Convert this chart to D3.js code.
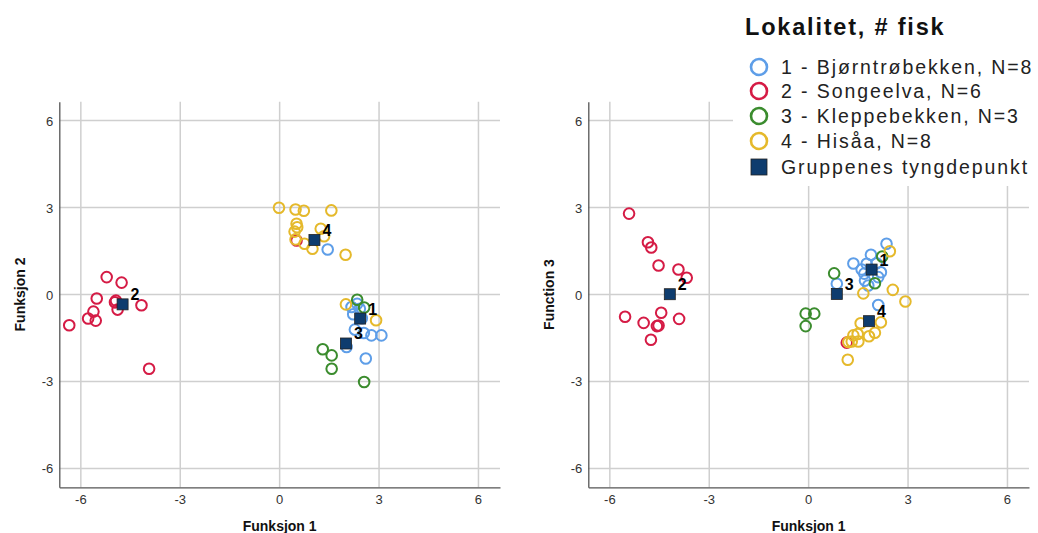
<!DOCTYPE html>
<html>
<head>
<meta charset="utf-8">
<style>
body { margin: 0; background: #fff; }
svg { font-family: "Liberation Sans", Arial, sans-serif; }
.grid line { stroke: #cfcfcf; stroke-width: 1.5; }
.axis path, .axis line { stroke: #555; }
.tick-label { font-size: 13px; fill: #333; }
.axis-title { font-size: 14px; font-weight: bold; fill: #111; }
.clabel { font-size: 16px; font-weight: bold; fill: #000; }
</style>
</head>
<body>
<svg width="1038" height="533"></svg>
<script src="https://cdn.jsdelivr.net/npm/d3@7/dist/d3.min.js"></script>
<script>

// tick values used on every axis
var ticks = [-6, -3, 0, 3, 6];

// groups: name, colour
var groupNames = ["1 - Bjørntrøbekken, N=8", "2 - Songeelva, N=6", "3 - Kleppebekken, N=3", "4 - Hisåa, N=8"];
var groupColors = ["#5e9ee8", "#d51b45", "#3b8c2e", "#e5b92b"];
var centroidName = "Gruppenes tyngdepunkt";

// left panel: Funksjon 1 vs Funksjon 2
var leftBlue = [[2.17,-0.43],[2.42,-0.49],[2.22,-0.68],[2.48,-0.82],[2.27,-1.21],[2.54,-1.33],[2.77,-1.41],[3.07,-1.41],[2.02,-1.81],[2.60,-2.21],[1.45,1.55],[2.34,-0.32]];
var leftRed = [[-5.22,0.60],[-4.77,0.41],[-5.52,-0.14],[-4.94,-0.21],[-4.97,-0.27],[-4.89,-0.52],[-4.17,-0.37],[-5.62,-0.59],[-5.78,-0.83],[-5.55,-0.90],[-6.35,-1.06],[-3.94,-2.56],[0.51,1.86]];
var leftGreen = [[2.34,-0.18],[2.55,-0.45],[1.30,-1.89],[1.57,-2.10],[1.57,-2.56],[2.55,-3.02]];
var leftYellow = [[-0.02,2.99],[0.48,2.93],[0.73,2.89],[1.56,2.90],[0.51,2.44],[0.53,2.32],[0.45,2.17],[1.24,2.27],[1.34,2.01],[0.48,1.90],[0.75,1.75],[0.99,1.58],[1.99,1.37],[2.00,-0.34],[2.91,-0.89]];
var leftCentroids = [[2.43,-0.83],[-4.74,-0.34],[2.00,-1.69],[1.05,1.88]];

// right panel: Funksjon 1 vs Function 3
var rightBlue = [[2.35,1.75],[1.88,1.37],[1.35,1.07],[1.75,1.06],[2.05,1.08],[1.60,0.86],[1.68,0.72],[2.18,0.77],[2.10,0.60],[1.70,0.48],[1.80,0.31],[0.85,0.37],[2.10,-0.36]];
var rightRed = [[-5.42,2.79],[-4.85,1.80],[-4.75,1.62],[-4.53,1.00],[-3.93,0.86],[-3.68,0.58],[-5.54,-0.77],[-4.45,-0.63],[-4.98,-0.98],[-4.58,-1.09],[-4.53,-1.07],[-3.91,-0.84],[-4.76,-1.56],[1.15,-1.66]];
var rightGreen = [[2.22,1.31],[2.00,0.39],[0.77,0.73],[-0.09,-0.66],[0.17,-0.66],[-0.09,-1.09]];
var rightYellow = [[2.45,1.49],[2.54,0.16],[2.92,-0.24],[1.65,0.04],[2.18,-0.96],[1.57,-0.99],[2.00,-1.32],[1.82,-1.44],[1.48,-1.36],[1.35,-1.41],[1.30,-1.62],[1.50,-1.62],[1.20,-1.64],[1.18,-2.25]];
var rightCentroids = [[1.90,0.86],[-4.19,0.01],[0.85,0.02],[1.82,-0.92]];

var svg = d3.select("svg");
var top0 = 101.7, bottom0 = 487.3, pw = 440.7;

function panel(left, xTitle, yTitle, series, centroids) {
  var x = d3.scaleLinear().domain([-6.65, 6.65]).range([left, left + pw]);
  var y = d3.scaleLinear().domain([-6.65, 6.65]).range([bottom0, top0]);
  var g = svg.append("g");

  // grid
  var grid = g.append("g").attr("class", "grid");
  grid.selectAll(".vx").data(ticks).enter().append("line")
    .attr("x1", d => x(d)).attr("x2", d => x(d))
    .attr("y1", top0).attr("y2", bottom0);
  grid.selectAll(".hy").data(ticks).enter().append("line")
    .attr("y1", d => y(d)).attr("y2", d => y(d))
    .attr("x1", left).attr("x2", left + pw);

  // axes lines
  g.append("g").attr("class", "axis")
    .attr("transform", "translate(0," + bottom0 + ")")
    .call(d3.axisBottom(x).tickValues([]).tickSizeOuter(0))
    .select(".domain").attr("stroke", "#555").attr("stroke-width", 1.3);
  g.append("g").attr("class", "axis")
    .attr("transform", "translate(" + left + ",0)")
    .call(d3.axisLeft(y).tickValues([]).tickSizeOuter(0))
    .select(".domain").attr("stroke", "#555").attr("stroke-width", 1.3);

  // tick labels
  g.selectAll(".xl").data(ticks).enter().append("text")
    .attr("class", "tick-label").attr("text-anchor", "middle")
    .attr("x", d => x(d)).attr("y", bottom0 + 17).text(d => d);
  g.selectAll(".yl").data(ticks).enter().append("text")
    .attr("class", "tick-label").attr("text-anchor", "end")
    .attr("x", left - 6).attr("y", d => y(d) + 5).text(d => d);

  // titles
  g.append("text").attr("class", "axis-title").attr("text-anchor", "middle")
    .attr("x", x(0)).attr("y", 531).text(xTitle);
  g.append("text").attr("class", "axis-title").attr("text-anchor", "middle")
    .attr("transform", "translate(" + (left - 34) + "," + y(0) + ") rotate(-90)")
    .text(yTitle);

  // points
  series.forEach(function(pts, i) {
    g.append("g").selectAll("circle").data(pts).enter().append("circle")
      .attr("cx", d => x(d[0])).attr("cy", d => y(d[1])).attr("r", 5.3)
      .attr("fill", "none").attr("stroke", groupColors[i]).attr("stroke-width", 2);
  });

  // centroids
  g.append("g").selectAll("rect").data(centroids).enter().append("rect")
    .attr("x", d => x(d[0]) - 5.5).attr("y", d => y(d[1]) - 5.5)
    .attr("width", 11).attr("height", 11)
    .attr("fill", "#0e3c6e").attr("stroke", "#222").attr("stroke-width", 0.8);
  g.append("g").selectAll("text").data(centroids).enter().append("text")
    .attr("class", "clabel")
    .attr("x", d => x(d[0]) + 8).attr("y", d => y(d[1]) - 4)
    .text((d, i) => i + 1);
}

panel(59.3, "Funksjon 1", "Funksjon 2", [leftBlue, leftRed, leftGreen, leftYellow], leftCentroids);
panel(588.3, "Funksjon 1", "Function 3", [rightBlue, rightRed, rightGreen, rightYellow], rightCentroids);

// legend
var lg = svg.append("g");
lg.append("rect").attr("x", 733).attr("y", 0).attr("width", 305).attr("height", 186).attr("fill", "#fff");
lg.append("text").attr("x", 745).attr("y", 35)
  .attr("font-size", 23.5).attr("font-weight", "bold").attr("letter-spacing", 1.8).attr("fill", "#111")
  .text("Lokalitet, # fisk");
var rowY = [67, 91, 116, 141];
groupNames.forEach(function(n, i) {
  lg.append("circle").attr("cx", 759).attr("cy", rowY[i]).attr("r", 8)
    .attr("fill", "none").attr("stroke", groupColors[i]).attr("stroke-width", 2.6);
  lg.append("text").attr("x", 781).attr("y", rowY[i] + 7)
    .attr("font-size", 19.5).attr("letter-spacing", 1.9).attr("fill", "#222").text(n);
});
lg.append("rect").attr("x", 751).attr("y", 159).attr("width", 16).attr("height", 16)
  .attr("fill", "#0e3c6e").attr("stroke", "#222").attr("stroke-width", 0.8);
lg.append("text").attr("x", 781).attr("y", 174)
  .attr("font-size", 19.5).attr("letter-spacing", 1.9).attr("fill", "#222").text(centroidName);

</script>
</body>
</html>
